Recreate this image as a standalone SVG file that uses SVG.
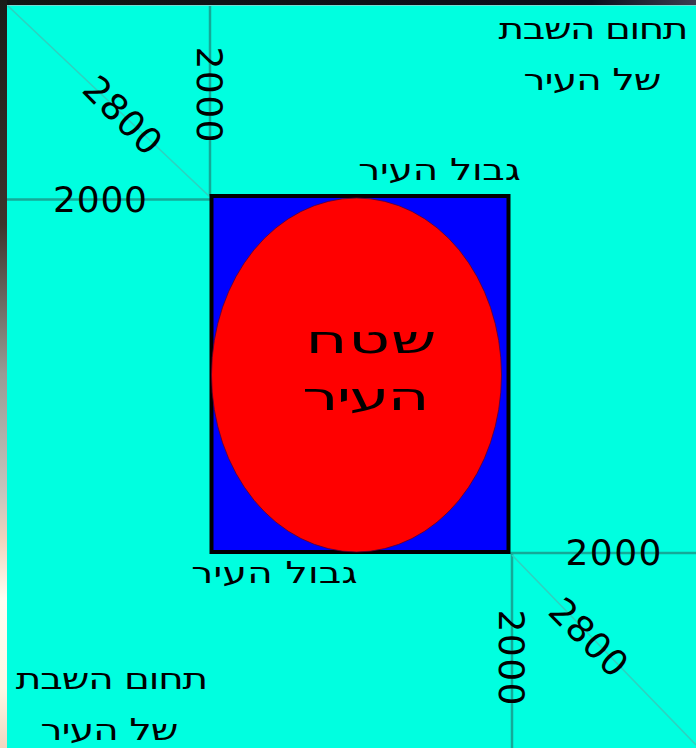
<svg xmlns="http://www.w3.org/2000/svg" width="696" height="748" viewBox="0 0 696 748">
<defs>
<linearGradient id="edge" x1="0" y1="0" x2="0" y2="1">
<stop offset="0" stop-color="#1a1c18"/>
<stop offset="0.3" stop-color="#3e342c"/>
<stop offset="0.5" stop-color="#9a9a94"/>
<stop offset="0.66" stop-color="#c8c4bc"/>
<stop offset="0.72" stop-color="#f2d2bc"/>
<stop offset="0.8" stop-color="#fffef2"/>
<stop offset="0.92" stop-color="#fdf8e4"/>
<stop offset="1" stop-color="#f2d6c0"/>
</linearGradient>
<linearGradient id="topedge" x1="0" y1="0" x2="1" y2="0">
<stop offset="0" stop-color="#121614"/>
<stop offset="0.85" stop-color="#0a0e1c"/>
<stop offset="1" stop-color="#3c3c50"/>
</linearGradient>
<style>
.t{font-family:"DejaVu Sans","Noto Sans",sans-serif;fill:#000;text-anchor:middle}
.he{font-size:30px}
.num{font-size:36px}
.big{font-size:38px}
.dim{stroke:#14aa98;stroke-width:2.5;fill:none}
.diag{stroke:#2ed2c0;stroke-width:1.6;fill:none}
</style>
</defs>
<rect x="0" y="0" width="696" height="748" fill="#00ffe0"/>
<rect x="0" y="0" width="696" height="5" fill="url(#topedge)"/>
<rect x="7" y="5" width="689" height="1" fill="#70dcd2"/>
<rect x="0" y="0" width="7" height="748" fill="url(#edge)"/>

<g id="connectors">
<line class="dim" x1="7" y1="199.5" x2="210" y2="199.5"/>
<line class="dim" x1="210" y1="6" x2="210" y2="196"/>
<line class="diag" x1="8" y1="6" x2="210" y2="197"/>
<line class="dim" x1="510" y1="553" x2="696" y2="553"/>
<line class="dim" x1="512" y1="553" x2="512" y2="748"/>
<line class="diag" x1="512" y1="555" x2="696" y2="745"/>
</g>

<g id="city-border">
<rect x="211.5" y="196" width="297" height="356" fill="#0000ff" stroke="#000" stroke-width="4"/>
</g>
<g id="city-area">
<ellipse cx="356.5" cy="375" rx="145" ry="177" fill="#ff0000" stroke="#5a0030" stroke-width="0.8"/>
<text class="t big" x="0" y="353" textLength="77" lengthAdjust="spacing" transform="translate(371 0) scale(1.7 1)">שטח</text>
<text class="t big" x="0" y="410" textLength="75" lengthAdjust="spacing" transform="translate(366 0) scale(1.7 1)">העיר</text>
</g>

<g id="shabbat-top">
<text class="t he" x="0" y="39" textLength="146" lengthAdjust="spacing" transform="translate(593.5 0) scale(1.3 1)">תחום השבת</text>
<text class="t he" x="0" y="90" textLength="106" lengthAdjust="spacing" transform="translate(592.5 0) scale(1.3 1)">של העיר</text>
</g>
<g id="border-top">
<text class="t he" x="0" y="180" textLength="125" lengthAdjust="spacing" transform="translate(439.5 0) scale(1.3 1)">גבול העיר</text>
</g>
<g id="border-bottom">
<text class="t he" x="0" y="583" textLength="128" lengthAdjust="spacing" transform="translate(274.5 0) scale(1.3 1)">גבול העיר</text>
</g>
<g id="shabbat-bottom">
<text class="t he" x="0" y="689" textLength="148" lengthAdjust="spacing" transform="translate(112 0) scale(1.3 1)">תחום השבת</text>
<text class="t he" x="0" y="740" textLength="106" lengthAdjust="spacing" transform="translate(109.5 0) scale(1.3 1)">של העיר</text>
</g>

<g id="dim-top-left">
<text class="t num" x="100" y="212" textLength="94" lengthAdjust="spacing">2000</text>
<text class="t num" x="210" y="107.5" textLength="96" lengthAdjust="spacing" transform="rotate(90 210 94.5)">2000</text>
<text class="t num" x="123" y="128" textLength="94" lengthAdjust="spacing" transform="rotate(45 123 115)">2800</text>
</g>
<g id="dim-bottom-right">
<text class="t num" x="613.5" y="565" textLength="96" lengthAdjust="spacing">2000</text>
<text class="t num" x="512" y="670.5" textLength="96" lengthAdjust="spacing" transform="rotate(90 512 657.5)">2000</text>
<text class="t num" x="589" y="650" textLength="94" lengthAdjust="spacing" transform="rotate(45 589 637)">2800</text>
</g>
</svg>
